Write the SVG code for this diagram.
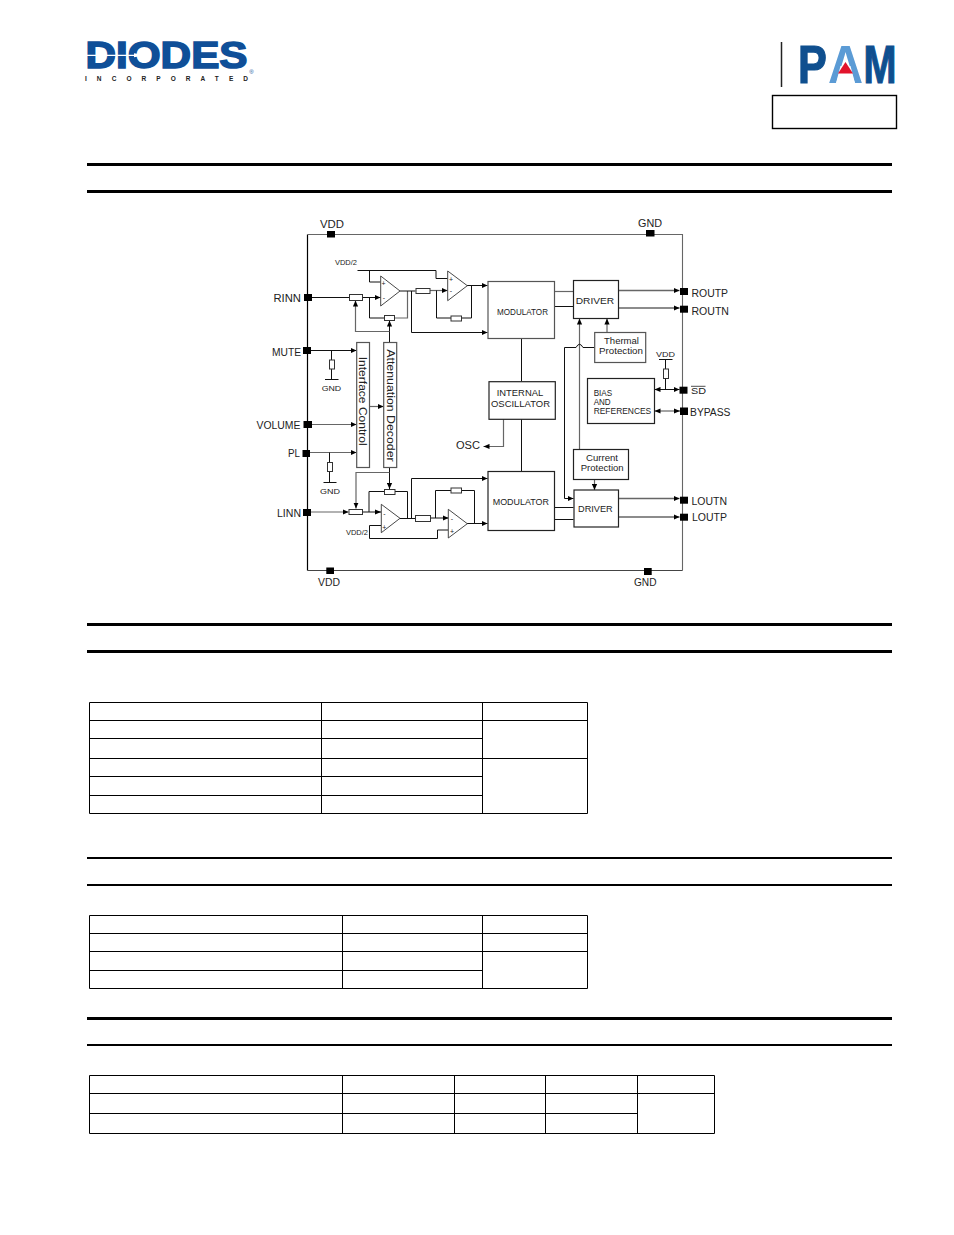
<svg xmlns="http://www.w3.org/2000/svg" width="954" height="1235" viewBox="0 0 954 1235">
<style>
text{font-family:"Liberation Sans",Arial,sans-serif;fill:#222}
.l{font-size:10px}.m{font-size:8.5px}.s{font-size:7.5px}.x{font-size:7px}.v{font-size:11.500px}.n{font-size:9.300px}
.w{fill:none;stroke:#111;stroke-width:1}
.g{fill:none;stroke:#666;stroke-width:1.200}
.o{fill:none;stroke:#666;stroke-width:1.700}
.a{marker-end:url(#ah)}
.b{marker-start:url(#ah);marker-end:url(#ah)}
.box{fill:#fff;stroke:#222;stroke-width:1.200}
.box2{fill:#fff;stroke:#555;stroke-width:1.200}
.r{fill:#fff;stroke:#333;stroke-width:1}
.amp{fill:#fff;stroke:#333;stroke-width:.9}
.pin{fill:#000}
.rule{fill:#000}
.t{fill:none;stroke:#000;stroke-width:1}
</style>
<defs>
<marker id="ah" markerUnits="userSpaceOnUse" markerWidth="7" markerHeight="6" refX="6" refY="3" orient="auto-start-reverse"><path d="M0 .4L6 3L0 5.600z" fill="#000"/></marker>
</defs>

<g id="logo-diodes">
<text x="85.500" y="67.500" font-size="36" font-weight="bold" textLength="162" lengthAdjust="spacingAndGlyphs" style="fill:#0f4f98;stroke:#0f4f98;stroke-width:1.500">DIODES</text>
<path d="M85 54.800H134V53.300L146 55.300L134 57.300V55.900H85z" fill="#fff"/>
<text x="251.500" y="73.500" font-size="6" text-anchor="middle" style="fill:#0f4f98">®</text>
<text x="85" y="81" font-size="6.500" font-weight="bold" textLength="163" style="fill:#222">INCORPORATED</text>
</g>

<g id="logo-pam">
<path d="M781.500 42V87" stroke="#222" stroke-width="1.500"/>
<text transform="translate(798 83) scale(.8 1)" font-size="54" font-weight="bold" style="fill:#0f4f8f;stroke:#0f4f8f;stroke-width:1.200">P</text>
<text transform="translate(828 83) scale(.9 1)" font-size="54" font-weight="bold" style="fill:#5b9bd5">A</text>
<path d="M840.500 66H850.500L855 83H836z" fill="#fff"/>
<path d="M845.500 62L853 73.500H838z" fill="#e2132c"/>
<text transform="translate(863.500 83) scale(.733 1)" font-size="54" font-weight="bold" style="fill:#0f4f8f;stroke:#0f4f8f;stroke-width:1.200">M</text>
</g>
<rect id="part-box" x="772.500" y="95.500" width="124" height="33" fill="none" stroke="#000" stroke-width="1.400"/>

<g id="rules">
<rect class="rule" x="87" y="163" width="805" height="3"/>
<rect class="rule" x="87" y="190" width="805" height="3"/>
<rect class="rule" x="87" y="623" width="805" height="3"/>
<rect class="rule" x="87" y="650" width="805" height="3"/>
<rect class="rule" x="87" y="857" width="805" height="2"/>
<rect class="rule" x="87" y="884" width="805" height="2"/>
<rect class="rule" x="87" y="1017" width="805" height="3"/>
<rect class="rule" x="87" y="1044" width="805" height="2"/>
</g>

<g id="frame">
<path d="M307.500 234.500V570.500" stroke="#000" stroke-width="1.200" fill="none"/>
<path d="M307.500 234.500H682.500V570.500" stroke="#666" stroke-width="1.100" fill="none"/>
<path d="M307.500 570.500H682.500" stroke="#444" stroke-width="1.100" fill="none"/>
</g>

<g id="connectors">
<path class="w" d="M357.500 270.500H436V278.500H447.500"/>
<path class="w" d="M369.500 270.500V282H380.500"/>
<path class="w a" d="M312 297.500H380.500"/>
<path class="w" d="M369.500 297.500V318H384"/>
<path class="g" d="M394.500 318H407.500V291"/>
<path class="w" d="M400 291H415.500"/>
<path class="g a" d="M430 290.500H447.500"/>
<path class="w" d="M436.500 290.500V318H451"/>
<path class="w" d="M461.500 318H471.500V285.700"/>
<path class="w a" d="M467 285.500H487.500"/>
<path class="w a" d="M411.500 291V332.500H487.500"/>
<path class="w a" d="M389.500 342V320.500"/>
<path class="g a" d="M389.500 331.500H355.500V300.500"/>
<path class="w a" d="M311 350.500H356.500"/>
<path class="w" d="M331.500 350.500V379.500M325 379.500H338.500"/>
<path class="g a" d="M369.500 406.500H383.500"/>
<path class="g a" d="M312 424.500H356.500"/>
<path class="g a" d="M310 452.500H356.500"/>
<path class="w" d="M329.500 452.500V482.500M323.500 482.500H336.500"/>
<path class="w a" d="M389.500 467.500V489"/>
<path class="g a" d="M389.500 472.500H356V508.500"/>
<path class="g a" d="M311 512H348.500"/>
<path class="w a" d="M362.500 512H381"/>
<path class="w" d="M369 512V491.500H384"/>
<path class="w" d="M395 491.500H407.500V518.500H400"/>
<path class="w" d="M400 518.500H415.500"/>
<path class="w a" d="M430.500 518H448.500"/>
<path class="w a" d="M411.500 518V478.500H487.500"/>
<path class="w" d="M435.500 518V490.500H451"/>
<path class="w" d="M461.500 490.500H474.500V523.500"/>
<path class="w a" d="M467 523.500H487.500"/>
<path class="w" d="M381 525.500H369.500V538.500H437.500V530H448"/>
<path class="g" d="M554.500 291.500H573.500"/>
<path class="w" d="M554.500 306.500H573.500"/>
<path class="o a" d="M618.500 290.500H679.500"/>
<path class="o a" d="M618.500 308H679.500"/>
<path class="w" d="M521.500 338V381.500M521.500 419V471.500"/>
<path class="g a" d="M503.500 419V446.500H483.500"/>
<path class="g a" d="M579.500 449.500V318.500"/>
<path class="g a" d="M607 332.500V318.500"/>
<path class="w a" d="M594.500 347.500H583Q579.500 341 576 347.500H564.500V498.500H573.500"/>
<path class="g a" d="M594.500 479V490"/>
<path class="w" d="M554.500 507.500H573.500M554.500 519.500H573.500"/>
<path class="o a" d="M618.500 498.500H679.500"/>
<path class="o a" d="M618.500 517H679.500"/>
<path class="w b" d="M654.500 389.500H679.500"/>
<path class="w" d="M665.500 389.500V359.500M659 359.500H672.500"/>
<path class="g b" d="M654.500 411H680"/>
</g>

<g id="resistors">
<rect class="r" x="349.500" y="294.500" width="13" height="6"/>
<rect class="r" x="384.500" y="315.500" width="10" height="5"/>
<rect class="r" x="416" y="288.500" width="14" height="5"/>
<rect class="r" x="451" y="316" width="10.500" height="5"/>
<rect class="r" x="329.500" y="360" width="5" height="9"/>
<rect class="r" x="327.500" y="462.500" width="5" height="9"/>
<rect class="r" x="384.500" y="489.500" width="10.500" height="5"/>
<rect class="r" x="349" y="509.500" width="13.500" height="5"/>
<rect class="r" x="415.500" y="515.500" width="15" height="6"/>
<rect class="r" x="451" y="488" width="10.500" height="5"/>
<rect class="r" x="663.500" y="369" width="5" height="9.500"/>
</g>

<g id="amp-r1"><path class="amp" d="M380.700 276L400 291L380.700 306z"/><text class="x" x="383.500" y="285.500" text-anchor="middle">+</text><text class="x" x="384" y="300" text-anchor="middle">-</text></g>
<g id="amp-r2"><path class="amp" d="M447.700 271L467.300 285.700L447.700 300.700z"/><text class="x" x="451" y="281.500" text-anchor="middle">+</text><text class="x" x="451" y="293" text-anchor="middle">-</text></g>
<g id="amp-l1"><path class="amp" d="M381.300 504.300L400 518.300L381.300 532.700z"/><text class="x" x="384.300" y="515.500" text-anchor="middle">-</text><text class="x" x="384.300" y="530" text-anchor="middle">+</text></g>
<g id="amp-l2"><path class="amp" d="M448.300 509.300L467.300 523.700L448.300 538z"/><text class="x" x="452" y="520.500" text-anchor="middle">-</text><text class="x" x="452" y="534" text-anchor="middle">+</text></g>

<g id="modulator-top"><rect class="box2" x="488" y="281.500" width="66.500" height="57"/><text class="m" x="497" y="315" textLength="51" lengthAdjust="spacingAndGlyphs">MODULATOR</text></g>
<g id="driver-top"><rect class="box" x="573.500" y="280.500" width="45" height="38"/><text class="n" x="575.700" y="304" textLength="38.500" lengthAdjust="spacingAndGlyphs">DRIVER</text></g>
<g id="thermal"><rect class="box2" x="594.700" y="332.500" width="51" height="30"/><text class="m" x="604" y="344" textLength="35" lengthAdjust="spacingAndGlyphs">Thermal</text><text class="m" x="599" y="354" textLength="44" lengthAdjust="spacingAndGlyphs">Protection</text></g>
<g id="oscillator"><rect class="box" x="489" y="381.700" width="66.300" height="37.600"/><text class="n" x="496.700" y="396" textLength="46.500" lengthAdjust="spacingAndGlyphs">INTERNAL</text><text class="n" x="491" y="406.500" textLength="59" lengthAdjust="spacingAndGlyphs">OSCILLATOR</text></g>
<g id="bias"><rect class="box" x="587.500" y="378.500" width="67" height="45"/><text class="m" x="593.700" y="396" textLength="18.500" lengthAdjust="spacingAndGlyphs">BIAS</text><text class="m" x="593.700" y="405" textLength="17" lengthAdjust="spacingAndGlyphs">AND</text><text class="m" x="593.700" y="414" textLength="57.500" lengthAdjust="spacingAndGlyphs">REFERENCES</text></g>
<g id="current"><rect class="box" x="573.500" y="449.500" width="55" height="30"/><text class="m" x="586" y="460.700" textLength="32" lengthAdjust="spacingAndGlyphs">Current</text><text class="m" x="580.700" y="471.300" textLength="43" lengthAdjust="spacingAndGlyphs">Protection</text></g>
<g id="driver-bottom"><rect class="box" x="574" y="490" width="44.500" height="37"/><text class="m" x="578" y="512" textLength="34.700" lengthAdjust="spacingAndGlyphs">DRIVER</text></g>
<g id="modulator-bottom"><rect class="box" x="488" y="471.500" width="66.500" height="59"/><text class="m" x="492.700" y="505" textLength="56.300" lengthAdjust="spacingAndGlyphs">MODULATOR</text></g>
<g id="interface"><rect class="box2" x="356.700" y="342.500" width="12.800" height="125"/><text class="v" transform="translate(359.300 356.700) rotate(90)" textLength="89" lengthAdjust="spacingAndGlyphs">Interface Control</text></g>
<g id="attenuation"><rect class="box2" x="383.700" y="342.500" width="13" height="125"/><text class="v" transform="translate(386.500 349.300) rotate(90)" textLength="112.400" lengthAdjust="spacingAndGlyphs">Attenuation Decoder</text></g>

<g id="pin-vdd-top"><rect class="pin" x="327" y="231" width="8" height="6.500"/><text class="l" x="320" y="228" textLength="24" lengthAdjust="spacingAndGlyphs">VDD</text></g>
<g id="pin-gnd-top"><rect class="pin" x="646" y="230" width="8.500" height="6.500"/><text class="l" x="638" y="227" textLength="24" lengthAdjust="spacingAndGlyphs">GND</text></g>
<g id="pin-rinn"><rect class="pin" x="304" y="294" width="8" height="7"/><text class="l" x="273.500" y="302" textLength="27.500" lengthAdjust="spacingAndGlyphs">RINN</text></g>
<g id="pin-mute"><rect class="pin" x="303" y="347" width="8" height="7"/><text class="l" x="272" y="356" textLength="29" lengthAdjust="spacingAndGlyphs">MUTE</text></g>
<g id="pin-volume"><rect class="pin" x="303.500" y="421" width="8.500" height="7"/><text class="l" x="256.500" y="429.300" textLength="44" lengthAdjust="spacingAndGlyphs">VOLUME</text></g>
<g id="pin-pl"><rect class="pin" x="302.500" y="450" width="7.500" height="7"/><text class="l" x="288" y="457" textLength="12" lengthAdjust="spacingAndGlyphs">PL</text></g>
<g id="pin-linn"><rect class="pin" x="303" y="509" width="8" height="7"/><text class="l" x="277" y="517" textLength="24" lengthAdjust="spacingAndGlyphs">LINN</text></g>
<g id="pin-vdd-bottom"><rect class="pin" x="326.300" y="567.500" width="7.700" height="6.500"/><text class="l" x="318" y="585.500" textLength="22" lengthAdjust="spacingAndGlyphs">VDD</text></g>
<g id="pin-gnd-bottom"><rect class="pin" x="644" y="568" width="7.700" height="7"/><text class="l" x="634" y="586" textLength="22.500" lengthAdjust="spacingAndGlyphs">GND</text></g>
<g id="pin-routp"><rect class="pin" x="680" y="288" width="8" height="7"/><text class="l" x="691.500" y="297" textLength="36.500" lengthAdjust="spacingAndGlyphs">ROUTP</text></g>
<g id="pin-routn"><rect class="pin" x="680" y="305.700" width="8" height="7"/><text class="l" x="691.500" y="315" textLength="37.500" lengthAdjust="spacingAndGlyphs">ROUTN</text></g>
<g id="pin-sd"><rect class="pin" x="679.500" y="386.700" width="8" height="7"/><text class="m" x="691" y="394" textLength="15" lengthAdjust="spacingAndGlyphs">SD</text><path d="M691 386.300H705.500" stroke="#222" stroke-width=".8"/></g>
<g id="pin-bypass"><rect class="pin" x="680" y="407.500" width="8" height="7.500"/><text class="l" x="690" y="415.700" textLength="40.500" lengthAdjust="spacingAndGlyphs">BYPASS</text></g>
<g id="pin-loutn"><rect class="pin" x="680" y="496.700" width="8" height="7"/><text class="l" x="691.500" y="504.700" textLength="35.500" lengthAdjust="spacingAndGlyphs">LOUTN</text></g>
<g id="pin-loutp"><rect class="pin" x="680" y="513.700" width="8" height="7"/><text class="l" x="692" y="520.700" textLength="35" lengthAdjust="spacingAndGlyphs">LOUTP</text></g>
<g id="pin-osc"><text class="l" x="456" y="449" textLength="24" lengthAdjust="spacingAndGlyphs">OSC</text></g>

<g id="supply-labels">
<text class="s" x="335" y="264.700" textLength="22" lengthAdjust="spacingAndGlyphs">VDD/2</text>
<text class="s" x="346" y="534.700" textLength="22" lengthAdjust="spacingAndGlyphs">VDD/2</text>
<text class="s" x="321.700" y="390.700" textLength="19.500" lengthAdjust="spacingAndGlyphs">GND</text>
<text class="s" x="320" y="494" textLength="20" lengthAdjust="spacingAndGlyphs">GND</text>
<text class="s" x="656" y="357" textLength="19" lengthAdjust="spacingAndGlyphs">VDD</text>
</g>

<g id="table-1">
<path class="t" d="M89.500 702.500H587.500V813.500H89.500zM321.500 702.500V813.500M482.500 702.500V813.500M89.500 720.500H587.500M89.500 738.500H482.500M89.500 758.500H587.500M89.500 776.500H482.500M89.500 795.500H482.500"/>
</g>
<g id="table-2">
<path class="t" d="M89.500 915.500H587.500V988.500H89.500zM342.500 915.500V988.500M482.500 915.500V988.500M89.500 933.500H587.500M89.500 951.500H587.500M89.500 970.500H482.500"/>
</g>
<g id="table-3">
<path class="t" d="M89.500 1075.500H714.500V1133.500H89.500zM342.500 1075.500V1133.500M454.500 1075.500V1133.500M545.500 1075.500V1133.500M637.500 1075.500V1133.500M89.500 1093.500H714.500M89.500 1113.500H637.500"/>
</g>
</svg>
